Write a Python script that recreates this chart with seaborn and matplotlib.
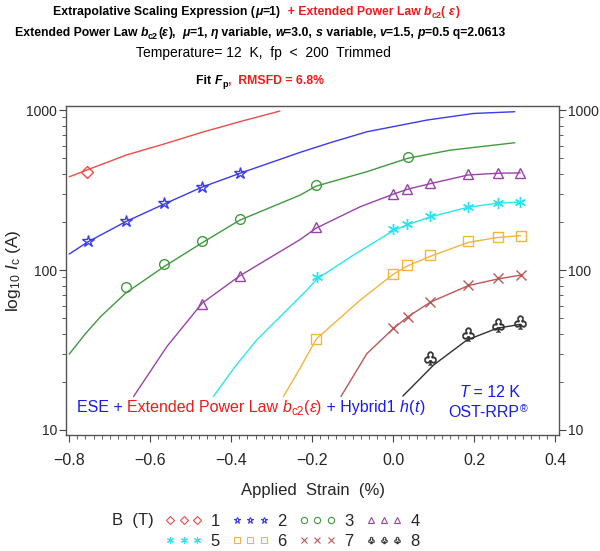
import numpy as np
import pandas as pd
import matplotlib
matplotlib.use("Agg")
import matplotlib.pyplot as plt
import matplotlib.ticker as mticker
from matplotlib.lines import Line2D
import seaborn as sns

# ---- data ----
fields = ["1", "2", "3", "4", "5", "6", "7", "8"]
colors = ["#f04a4a", "#3a3af0", "#3f9a3f", "#9a42aa", "#28e6ee", "#f5b43c", "#b85858", "#303030"]

# measured points (strain %, Ic A)
b1_s = [-0.755]
b1_ic = [408]
b2_s = [-0.754, -0.660, -0.565, -0.472, -0.378]
b2_ic = [152, 203, 261, 332, 405]
b3_s = [-0.660, -0.566, -0.472, -0.379, -0.190, 0.036]
b3_ic = [78, 109, 151, 208, 341, 506]
b4_s = [-0.472, -0.379, -0.190, 0.0, 0.035, 0.092, 0.185, 0.259, 0.314]
b4_ic = [61, 92, 185, 301, 322, 350, 398, 406, 402]
b5_s = [-0.188, 0.0, 0.035, 0.092, 0.185, 0.259, 0.314]
b5_ic = [91, 180, 194, 218, 249, 264, 266]
b6_s = [-0.190, 0.0, 0.035, 0.092, 0.186, 0.259, 0.315]
b6_ic = [37, 95, 107, 124, 151, 161, 164]
b7_s = [0.0, 0.036, 0.092, 0.186, 0.259, 0.315]
b7_ic = [43.6, 51, 63.4, 81, 89.5, 93]
b8_s = [0.092, 0.186, 0.259, 0.314]
b8_ic = [28, 39.8, 45.3, 47.5]

# fit curves
f1_s = [-0.80, -0.66, -0.563, -0.468, -0.374, -0.28]
f1_ic = [383, 523, 617, 732, 853, 986]
f2_s = [-0.80, -0.754, -0.660, -0.565, -0.472, -0.378, -0.23, -0.156, -0.065, 0.083, 0.198, 0.30]
f2_ic = [126, 150, 201, 259, 330, 403, 544, 625, 732, 866, 953, 977]
f3_s = [-0.80, -0.76, -0.723, -0.66, -0.566, -0.472, -0.379, -0.23, -0.19, -0.065, 0.036, 0.141, 0.30]
f3_ic = [29.8, 40, 51, 72, 105, 148, 205, 294, 335, 412, 500, 562, 625]
f4_s = [-0.641, -0.559, -0.472, -0.379, -0.23, -0.19, -0.081, 0.0, 0.035, 0.092, 0.185, 0.259, 0.314]
f4_ic = [16.2, 33.2, 62, 92, 155, 183, 249, 298, 320, 347, 393, 403, 405]
f5_s = [-0.444, -0.39, -0.337, -0.213, -0.188, -0.098, 0.0, 0.035, 0.092, 0.185, 0.259, 0.314]
f5_ic = [16.2, 25, 36.5, 75, 88, 124, 176, 192, 215, 247, 262, 266]
f6_s = [-0.271, -0.23, -0.19, -0.081, 0.0, 0.035, 0.092, 0.186, 0.259, 0.315]
f6_ic = [16.2, 24.3, 37, 65, 94, 106, 122, 149, 160, 164]
f7_s = [-0.129, -0.065, 0.0, 0.036, 0.092, 0.186, 0.259, 0.315]
f7_ic = [16.2, 30, 43, 51, 63, 80, 88, 93]
f8_s = [0.024, 0.10, 0.182, 0.256, 0.314]
f8_ic = [16.3, 25.5, 36.5, 43.2, 45.8]

xticks = [-0.8, -0.6, -0.4, -0.2, 0.0, 0.2, 0.4]
yticks = [10, 100, 1000]

pts = [(b1_s, b1_ic), (b2_s, b2_ic), (b3_s, b3_ic), (b4_s, b4_ic),
       (b5_s, b5_ic), (b6_s, b6_ic), (b7_s, b7_ic), (b8_s, b8_ic)]
fits = [(f1_s, f1_ic), (f2_s, f2_ic), (f3_s, f3_ic), (f4_s, f4_ic),
        (f5_s, f5_ic), (f6_s, f6_ic), (f7_s, f7_ic), (f8_s, f8_ic)]

markers = ["D", "*", "o", "^", (6, 2, 0), "s", "x", "$\u2667$"]
msizes = [6, 9, 7, 7, 8, 7, 7, 10]
filled = [False, False, False, False, True, False, True, True]

sns.set_style("ticks")
plt.rcParams["font.family"] = ["Liberation Sans", "DejaVu Sans"]
plt.rcParams["mathtext.fontset"] = "custom"
plt.rcParams["mathtext.rm"] = "Liberation Sans"
plt.rcParams["mathtext.it"] = "Liberation Sans:italic"
plt.rcParams["mathtext.bf"] = "Liberation Sans:bold"

fig = plt.figure(figsize=(6, 5.51), dpi=100)
ax = fig.add_axes([0.110, 0.2105, 0.822, 0.597])
ax.set_yscale("log")

fit_df = pd.concat([pd.DataFrame({"strain": s, "ic": ic, "B": f})
                    for (s, ic), f in zip(fits, fields)], ignore_index=True)
sns.lineplot(data=fit_df, x="strain", y="ic", hue="B", palette=dict(zip(fields, colors)),
             estimator=None, sort=False, legend=False, lw=1.0, ax=ax)

for (s, ic), c, m, ms, fl in zip(pts, colors, markers, msizes, filled):
    if fl:
        mew = 0.3 if str(m).startswith("$") else 1.0
        ax.plot(s, ic, ls="none", marker=m, ms=ms, color=c, mew=mew)
    else:
        ax.plot(s, ic, ls="none", marker=m, ms=ms, mfc="none", mec=c, mew=1.0)

ax.set_xlim(-0.808, 0.41)
ax.set_ylim(9.3, 1060)
ax.set_xticks(xticks)
ax.xaxis.set_minor_locator(mticker.MultipleLocator(0.02))
ax.xaxis.set_major_formatter(mticker.FuncFormatter(lambda v, _: f"{v:.1f}".replace("-", "\u2212")))
ax.set_yticks(yticks)
ax.yaxis.set_major_formatter(mticker.FuncFormatter(lambda v, _: f"{v:g}"))
ax.yaxis.set_minor_formatter(mticker.NullFormatter())
ax.tick_params(which="both", direction="out", color="#444444")
ax.tick_params(axis="x", labelsize=11.5, pad=8)
ax.tick_params(axis="y", which="both", right=True, labelright=True, labelsize=10, pad=1.5)
ax.tick_params(which="major", length=5)
ax.tick_params(which="minor", length=3)
for sp in ax.spines.values():
    sp.set_color("#555555")
    sp.set_linewidth(1.0)
ax.set_xlabel("Applied  Strain  (%)", fontsize=12, labelpad=11)
ax.set_ylabel(r"log$_{10}$ $I$$_{\rm c}$ (A)", fontsize=12.5)
ax.yaxis.set_label_coords(-0.087, 0.5)

renderer = fig.canvas.get_renderer()
W, H = fig.bbox.width, fig.bbox.height


def rich_line(y_px, parts, x_center=None, x_left=None, base=None):
    # lay out coloured / styled pieces one after another on one baseline
    base = base or {}
    texts = []
    for p in parts:
        txt, col = p[0], p[1]
        kw = dict(base)
        dy = 0
        if len(p) > 2:
            kw.update(p[2])
            dy = kw.pop("dy", 0)
        t = fig.text(0, 1 - (y_px + dy) / H, txt, color=col, va="baseline", **kw)
        texts.append(t)
    widths = [t.get_window_extent(renderer).width for t in texts]
    x0 = x_center - sum(widths) / 2 if x_center is not None else x_left
    for t, w in zip(texts, widths):
        t.set_x(x0 / W)
        x0 += w


tb = dict(fontsize=8.8, fontweight="bold")
it = dict(style="italic")
sub = dict(fontsize=6.5, dy=3)
red = "#ee1c1c"

rich_line(15, [("Extrapolative Scaling Expression (", "black"), ("\u03bc", "black", it), ("=1)", "black"),
               ("  + Extended Power Law ", red), ("b", red, it), ("c2", red, sub), ("( ", red),
               ("\u03b5", red, it), (")", red)], x_center=256, base=tb)
rich_line(36, [("Extended Power Law ", "black"), ("b", "black", it), ("c2", "black", sub), ("(", "black"),
               ("\u03b5", "black", it), ("),  ", "black"), ("\u03bc", "black", it), ("=1, ", "black"),
               ("\u03b7", "black", it), (" variable, ", "black"), ("w", "black", it), ("=3.0, ", "black"),
               ("s", "black", it), (" variable, ", "black"), ("v", "black", it), ("=1.5, ", "black"),
               ("p", "black", it), ("=0.5 q=2.0613", "black")], x_center=260, base=tb)
rich_line(57, [("Temperature= 12  K,  fp  <  200  Trimmed", "black")], x_center=263,
          base=dict(fontsize=10))
rich_line(84, [("Fit ", "black"), ("F", "black", it), ("p", "black", sub), (",  RMSFD = 6.8%", red)],
          x_center=260, base=tb)

blue = "#1a1aee"
ann = dict(fontsize=11.5)
rich_line(412, [("ESE + ", blue), ("Extended Power Law ", red), ("b", red, it), ("c2", red, dict(fontsize=8.5, dy=3)),
                ("(", red), ("\u03b5", red, it), (")", red), (" + Hybrid1 ", blue), ("h", blue, it),
                ("(", blue), ("t", blue, it), (" ", blue, dict(fontsize=3)), (")", blue)], x_left=77, base=ann)
rich_line(397, [("T", blue, it), (" = 12 K", blue)], x_center=490, base=ann)
rich_line(417, [("OST-RRP", blue), ("\u00ae", blue, dict(fontsize=7.5, dy=-5))], x_center=488, base=ann)

# legend: two rows of four, row-major order
handles = []
for c, m, fl in zip(colors, markers, filled):
    if fl:
        mew = 0.3 if str(m).startswith("$") else 0.8
        handles.append(Line2D([], [], ls="none", marker=m, ms=5, color=c, mew=mew))
    else:
        handles.append(Line2D([], [], ls="none", marker=m, ms=4.5, mfc="none", mec=c, mew=0.8))
order = [0, 4, 1, 5, 2, 6, 3, 7]
fig.legend([handles[i] for i in order], [fields[i] for i in order], ncol=4, loc="center left",
           bbox_to_anchor=(157 / W, 1 - 531 / H), frameon=False, numpoints=3, fontsize=12,
           handlelength=2.2, handletextpad=0.5, columnspacing=0.75, labelspacing=0.3, borderpad=0)
fig.text(112 / W, 1 - 521 / H, "B  (T)", fontsize=12, va="center")

fig.savefig("out.png", dpi=100, facecolor="white")
